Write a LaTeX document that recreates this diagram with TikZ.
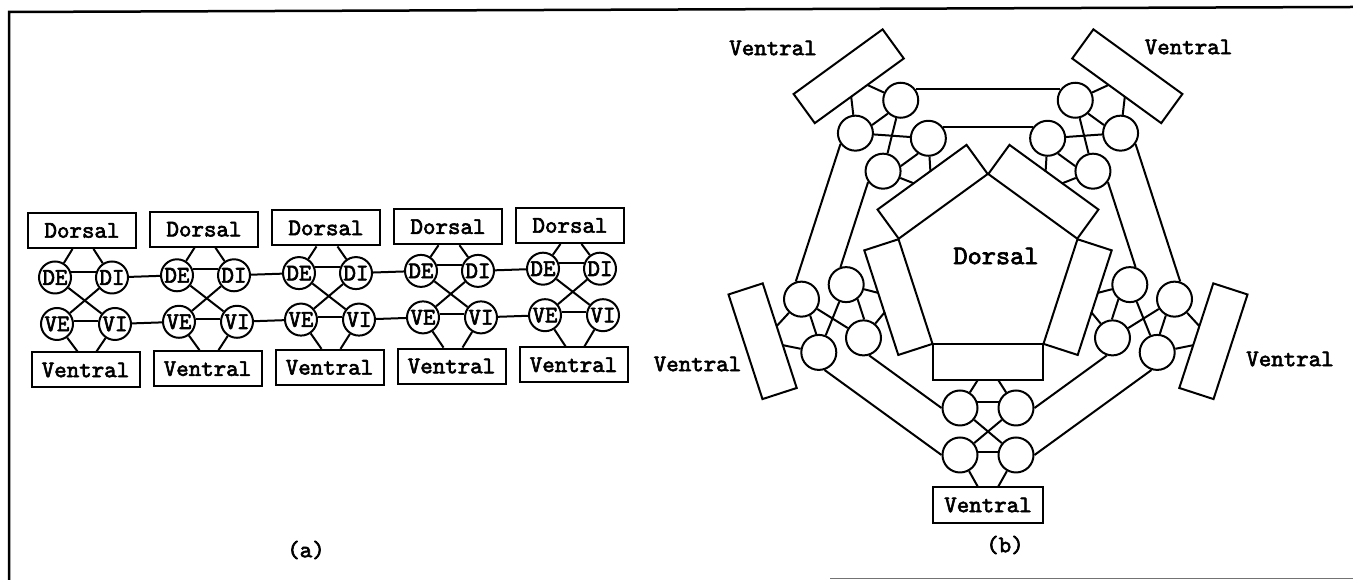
\documentclass[tikz,border=0pt]{standalone}
\usepackage{fontspec}
\newfontfamily\ttbold{lmmono10-regular.otf}[FakeBold=2.5]
\usetikzlibrary{calc}
\tikzset{
  ln/.style={line width=2pt},
  ttf/.style={font=\ttbold\fontsize{23.8}{28}\selectfont},
  abox/.style={draw, ln, rectangle, minimum width=108pt, minimum height=35pt, inner sep=0pt, ttf},
  acirc/.style={draw, ln, circle, minimum size=32pt, inner sep=0pt, ttf},
  bcirc/.style={draw, ln, circle, minimum size=35pt, inner sep=0pt},
  brect/.style={draw, ln, rectangle, minimum width=110pt, minimum height=36pt, inner sep=0pt, ttf},
  lbl/.style={ttf, inner sep=0pt},
}
\begin{document}
\begin{tikzpicture}[x=1pt,y=1pt,line width=2pt]
\useasboundingbox (0,0) rectangle (1353,580);
% frame
\draw[line width=2.5pt] (9,0) -- (9,568) -- (1353,573);
\draw[line width=1.5pt, black!55] (830,1.5) -- (1353,1.5);

% ---------------- (a) ----------------
\foreach \i in {0,...,4}{
  \pgfmathsetmacro\c{82+122*\i}
  \pgfmathsetmacro\v{85.5+122*\i}
  \pgfmathsetmacro\yd{349.5+1.25*\i}
  \pgfmathsetmacro\yD{302.5+2.2*\i}
  \pgfmathsetmacro\yV{256+2.2*\i}
  \pgfmathsetmacro\yv{210+1.3*\i}
  \node[abox] (Dor\i) at (\c,\yd) {Dorsal};
  \node[acirc] (DE\i) at ({\c-27},\yD) {DE};
  \node[acirc] (DI\i) at ({\c+30},\yD) {DI};
  \node[acirc] (VE\i) at ({\c-25},\yV) {VE};
  \node[acirc] (VI\i) at ({\c+33},\yV) {VI};
  \node[abox] (Ven\i) at (\v,\yv) {Ventral};
  \coordinate (Da\i) at ({\c-9.5},{\yd-18.5});
  \coordinate (Db\i) at ({\c+11.5},{\yd-18.5});
  \coordinate (Va\i) at ({\v-8},{\yv+18.5});
  \coordinate (Vb\i) at ({\v+11},{\yv+18.5});
  \draw (Da\i) -- (DE\i);
  \draw (Db\i) -- (DI\i);
  \draw (DE\i.20) -- (DI\i.160);
  \draw (DE\i) -- (VI\i);
  \draw (DI\i) -- (VE\i);
  \draw (VE\i.10) -- (VI\i.170);
  \draw (VE\i) -- (Va\i);
  \draw (VI\i) -- (Vb\i);
}
\foreach \i [evaluate=\i as \j using int(\i+1)] in {0,...,3}{
  \draw (DI\i) -- (DE\j);
  \draw (VI\i) -- (VE\j);
}
\node[lbl] (la) at (306,30) {(a)};

% ---------------- (b) ----------------
\coordinate (C) at (988,312);
\foreach \k/\t in {0/{},1/{},2/{Ventral},3/{},4/{}}{
  \pgfmathtruncatemacro\p{126+72*\k}
  \pgfmathtruncatemacro\r{\p+90}
  \node[brect, rotate=\r] (bR\k) at ($(C)+(\p:94.2)$) {};
  \node[brect, rotate=\r] (bV\k) at ($(C)+(\p:237)$) {\t};
  \node[bcirc] (bDE\k) at ($(C)+(\p:140)+({\p-90}:28)$) {};
  \node[bcirc] (bDI\k) at ($(C)+(\p:140)+({\p+90}:28)$) {};
  \node[bcirc] (bVE\k) at ($(C)+(\p:187)+({\p-90}:28)$) {};
  \node[bcirc] (bVI\k) at ($(C)+(\p:187)+({\p+90}:28)$) {};
  \coordinate (bDa\k) at ($(C)+(\p:111.7)+({\p-90}:10)$);
  \coordinate (bDb\k) at ($(C)+(\p:111.7)+({\p+90}:10)$);
  \coordinate (bVa\k) at ($(C)+(\p:219)+({\p-90}:10)$);
  \coordinate (bVb\k) at ($(C)+(\p:219)+({\p+90}:10)$);
  \pgfmathtruncatemacro\aD{mod(\p+110,360)}
  \pgfmathtruncatemacro\bD{mod(\p+250,360)}
  \pgfmathtruncatemacro\aV{mod(\p+100,360)}
  \pgfmathtruncatemacro\bV{mod(\p+260,360)}
  \draw (bDa\k) -- (bDE\k);
  \draw (bDb\k) -- (bDI\k);
  \draw (bDE\k.\aD) -- (bDI\k.\bD);
  \draw (bDE\k) -- (bVI\k);
  \draw (bDI\k) -- (bVE\k);
  \draw (bVE\k.\aV) -- (bVI\k.\bV);
  \draw (bVE\k) -- (bVa\k);
  \draw (bVI\k) -- (bVb\k);
}
\foreach \k in {0,...,4}{
  \pgfmathtruncatemacro\p{126+72*\k}
  \pgfmathtruncatemacro\n{mod(\k+1,5)}
  \pgfmathtruncatemacro\rA{mod(\p+90,360)}
  \pgfmathtruncatemacro\rB{mod(\p-18,360)}
  \draw (bDI\k.\rA) -- (bDE\n.\rB);
  \draw (bVI\k.\rA) -- (bVE\n.\rB);
}
\node[lbl, font=\ttbold\fontsize{27}{32}\selectfont] (bDor) at (996,324) {Dorsal};
\node[lbl] (lul) at (773,532) {Ventral};
\node[lbl] (lur) at (1188.5,533) {Ventral};
\node[lbl] (ll) at (697.5,216) {Ventral};
\node[lbl] (lr) at (1290,221) {Ventral};
\node[lbl] (lb) at (1005,35) {(b)};
\end{tikzpicture}
\end{document}
